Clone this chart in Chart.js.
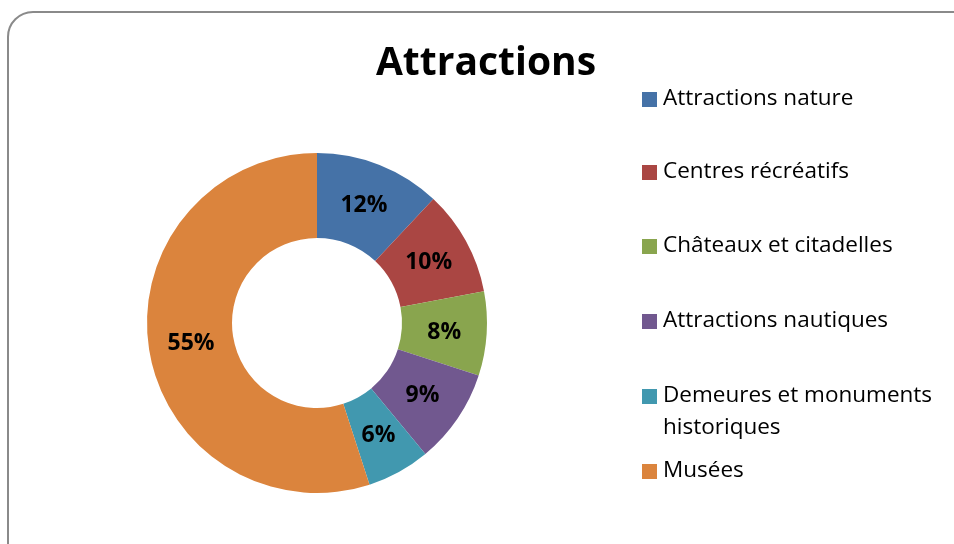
<!DOCTYPE html>
<html>
<head>
<meta charset="utf-8">
<script src="https://cdn.jsdelivr.net/npm/chart.js@4.4.0/dist/chart.umd.min.js"></script>
<style>
    html, body { margin: 0; padding: 0; background: #ffffff; overflow: hidden; }
    #wrap { position: relative; width: 954px; height: 544px; }
    #frame {
        position: absolute; left: 7px; top: 11px; width: 975px; height: 570px;
        border: 2px solid #8a8a8a; border-radius: 26px; box-sizing: border-box;
    }
    #chart { position: absolute; left: 0; top: 0; }
</style>
</head>
<body>
<div id="wrap">
    <div id="frame"></div>
    <canvas id="chart" width="954" height="544"></canvas>
</div>
<script>
// Chart data
const chartTitle = 'Attractions';
const categories = [
    'Attractions nature',
    'Centres récréatifs',
    'Châteaux et citadelles',
    'Attractions nautiques',
    ['Demeures et monuments', 'historiques'],
    'Musées'
];
const shares = [12, 10, 8, 9, 6, 55];
const sliceColors = ['#4572A7', '#AA4643', '#89A54E', '#71588F', '#4198AF', '#DB843D'];

const FONT = '"Open Sans", "Liberation Sans", sans-serif';

// title, percentage labels and the legend are painted here
const overlayPlugin = {
    id: 'overlay',
    afterDatasetsDraw(chart) {
        const ctx = chart.ctx;
        const meta = chart.getDatasetMeta(0);
        const total = shares.reduce((a, b) => a + b, 0);

        ctx.save();
        ctx.fillStyle = '#000000';
        ctx.textAlign = 'center';
        ctx.textBaseline = 'middle';
        ctx.font = 'bold 23px ' + FONT;
        meta.data.forEach((arc, i) => {
            const p = arc.getCenterPoint();
            ctx.fillText(Math.round(shares[i] / total * 100) + '%', p.x, p.y + 1);
        });

        // title
        ctx.font = 'bold 39px ' + FONT;
        ctx.fillText(chartTitle, 486, 64);

        // legend
        ctx.textAlign = 'left';
        ctx.font = '22.5px ' + FONT;
        const rowY = [99, 172, 246, 321, 396, 471];
        categories.forEach((label, i) => {
            const y = rowY[i];
            ctx.fillStyle = sliceColors[i];
            ctx.fillRect(642, y - 7, 15, 15);
            ctx.fillStyle = '#000000';
            const lines = Array.isArray(label) ? label : [label];
            lines.forEach((line, j) => {
                ctx.fillText(line, 663, y + j * 32);
            });
        });
        ctx.restore();
    }
};

new Chart(document.getElementById('chart'), {
    type: 'doughnut',
    data: {
        labels: categories.map(c => Array.isArray(c) ? c.join(' ') : c),
        datasets: [{
            data: shares,
            backgroundColor: sliceColors,
            borderWidth: 0
        }]
    },
    options: {
        responsive: false,
        animation: false,
        cutout: '50%',
        layout: {
            padding: { left: 147, right: 467, top: 153, bottom: 51 }
        },
        plugins: {
            legend: { display: false },
            tooltip: { enabled: false },
            title: { display: false }
        }
    },
    plugins: [overlayPlugin]
});
</script>
</body>
</html>
